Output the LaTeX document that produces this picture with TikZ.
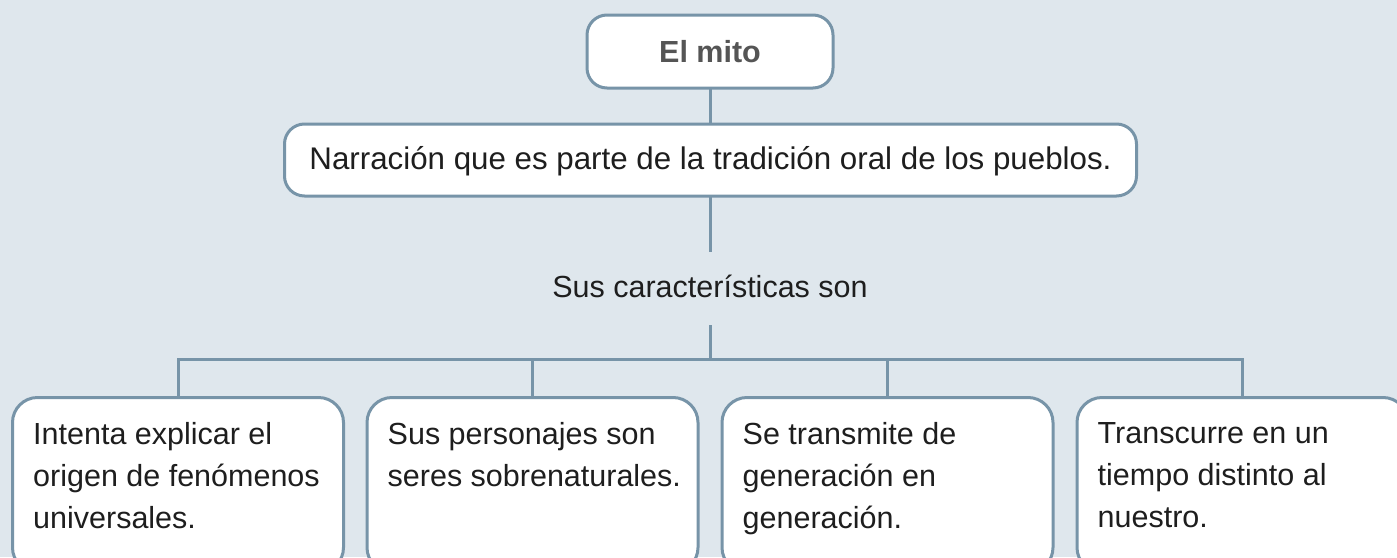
\documentclass[tikz,border=0pt]{standalone}
\usepackage{fontspec}
\setmainfont{Liberation Sans}
\usetikzlibrary{calc}
\definecolor{bgc}{HTML}{DFE7ED}
\definecolor{lnc}{HTML}{7794A8}
\definecolor{txc}{HTML}{1E1E1E}
\definecolor{ttc}{HTML}{555555}
\tikzset{
  boxbase/.style={draw=lnc, line width=3pt, fill=white, inner sep=0pt, outer sep=0pt},
  topbox/.style={boxbase, rounded corners=20pt, text=txc,
    font=\fontsize{30.5}{42}\selectfont, text height=22pt, text depth=4pt},
  charbox/.style={boxbase, rounded corners=25pt, minimum width=331pt, minimum height=175pt, anchor=north},
  chartext/.style={anchor=north west, inner sep=0pt, align=left, text=txc,
    font=\fontsize{30.5}{42}\selectfont},
  conn/.style={draw=lnc, line width=3pt}
}
\begin{document}
\begin{tikzpicture}[x=1pt,y=-1pt]
\useasboundingbox (0,0) rectangle (1397,557);
\clip (0,0) rectangle (1397,557);
\fill[bgc] (0,0) rectangle (1397,557);
% top nodes
\node[topbox, minimum width=246pt, minimum height=73pt, text=ttc,
      font=\fontsize{30.5}{42}\selectfont\bfseries, text depth=0pt] (mito) at (710,51.5) {El mito};
\node[topbox, minimum width=852pt, minimum height=72pt,
      font=\fontsize{31.3}{42}\selectfont] (narr) at (710.5,160)
  {Narración que es parte de la tradición oral de los pueblos.};
\node[inner sep=0pt, outer sep=0pt, minimum height=73pt, text=txc,
      font=\fontsize{30.5}{42}\selectfont, text height=22pt, text depth=4pt] (sus) at (710,288.5)
  {Sus características son};
% bottom boxes
\node[charbox] (b1) at (178,397.5) {};
\node[charbox] (b2) at (532.5,397.5) {};
\node[charbox] (b3) at (887.5,397.5) {};
\node[charbox] (b4) at (1242.5,397.5) {};
\node[chartext] (t1) at ($(b1.north west)+(20.5,25)$) {Intenta explicar el\\origen de fenómenos\\universales.};
\node[chartext] (t2) at ($(b2.north west)+(20.5,25)$) {Sus personajes son\\seres sobrenaturales.};
\node[chartext] (t3) at ($(b3.north west)+(20.5,25)$) {Se transmite de\\generación en\\generación.};
\node[chartext] (t4) at ($(b4.north west)+(20.5,25)$) {Transcurre en un\\tiempo distinto al\\nuestro.};
% connectors
\coordinate (j) at (710,359.5);
\draw[conn] (mito.south) -- (mito.south |- narr.north);
\draw[conn] (narr.south -| sus.north) -- (sus.north);
\draw[conn] (sus.south) -- (j);
\draw[conn] (b1.north) |- (j) -| (b4.north);
\draw[conn] (b2.north) -- (b2.north |- j);
\draw[conn] (b3.north) -- (b3.north |- j);
\end{tikzpicture}
\end{document}
